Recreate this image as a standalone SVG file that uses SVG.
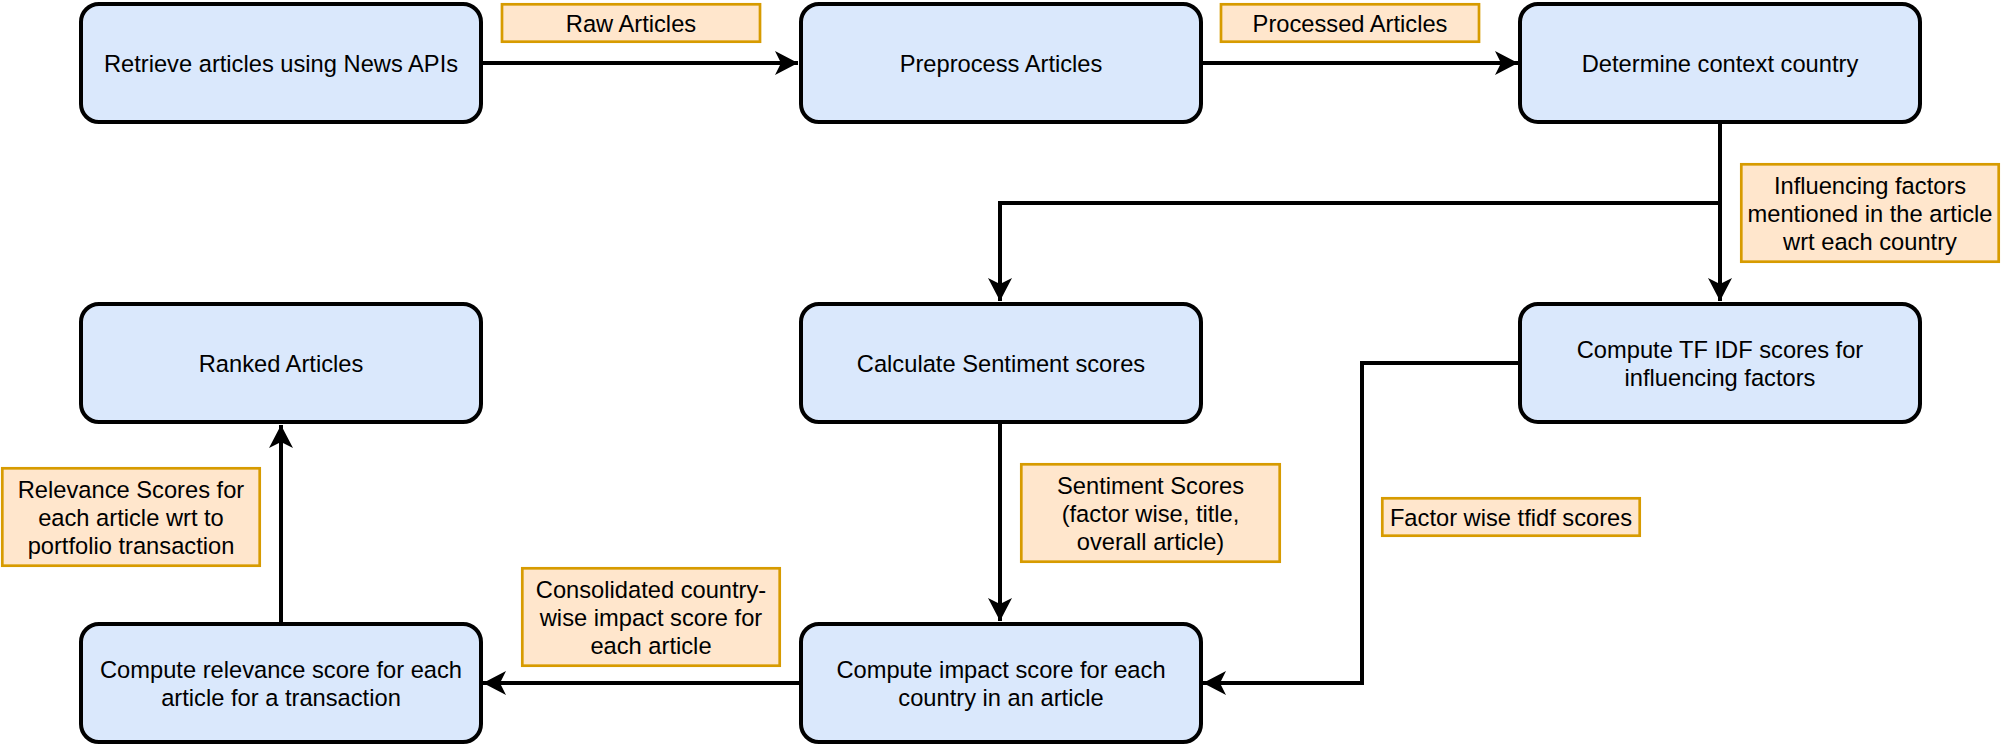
<svg xmlns="http://www.w3.org/2000/svg" width="2002" height="746" viewBox="0 0 2002 746">
<style>
.node rect{fill:#dae8fc;stroke:#000;stroke-width:4}
.lbl rect{fill:#ffe6cc;stroke:#d79b00;stroke-width:2.7}
text{font-family:"Liberation Sans",Arial,Helvetica,sans-serif;font-size:23.7px;fill:#000;text-anchor:middle}
.conn path{fill:none;stroke:#000;stroke-width:4}
</style>
<defs>
<marker id="arr" viewBox="0 0 24 24" refX="23" refY="12" markerWidth="24" markerHeight="24" markerUnits="userSpaceOnUse" orient="auto">
<path d="M0,0 L23,12 L0,24 L6,12 Z" fill="#000"/>
</marker>
</defs>
<rect width="2002" height="746" fill="#fff"/>
<g class="conn" id="connectors">
<path d="M481,63 L798,63" marker-end="url(#arr)"/>
<path d="M1201,63 L1518,63" marker-end="url(#arr)"/>
<path d="M1720,124 L1720,301" marker-end="url(#arr)"/>
<path d="M1720,203 L1000,203 L1000,301" marker-end="url(#arr)"/>
<path d="M1000,424 L1000,621" marker-end="url(#arr)"/>
<path d="M1520,363 L1362,363 L1362,683 L1203,683" marker-end="url(#arr)"/>
<path d="M801,683 L483,683" marker-end="url(#arr)"/>
<path d="M281,622 L281,425" marker-end="url(#arr)"/>
</g>
<g class="node" id="n-retrieve"><rect x="81" y="4" width="400" height="118" rx="18"/><text x="281" y="71.5">Retrieve articles using News APIs</text></g>
<g class="node" id="n-preprocess"><rect x="801" y="4" width="400" height="118" rx="18"/><text x="1001" y="71.5">Preprocess Articles</text></g>
<g class="node" id="n-context"><rect x="1520" y="4" width="400" height="118" rx="18"/><text x="1720" y="71.5">Determine context country</text></g>
<g class="node" id="n-ranked"><rect x="81" y="304" width="400" height="118" rx="18"/><text x="281" y="371.5">Ranked Articles</text></g>
<g class="node" id="n-sentiment"><rect x="801" y="304" width="400" height="118" rx="18"/><text x="1001" y="371.5">Calculate Sentiment scores</text></g>
<g class="node" id="n-tfidf"><rect x="1520" y="304" width="400" height="118" rx="18"/><text x="1720" y="357.5">Compute TF IDF scores for</text><text x="1720" y="385.5">influencing factors</text></g>
<g class="node" id="n-relevance"><rect x="81" y="624" width="400" height="118" rx="18"/><text x="281" y="677.5">Compute relevance score for each</text><text x="281" y="705.5">article for a transaction</text></g>
<g class="node" id="n-impact"><rect x="801" y="624" width="400" height="118" rx="18"/><text x="1001" y="677.5">Compute impact score for each</text><text x="1001" y="705.5">country in an article</text></g>
<g class="lbl" id="l-raw"><rect x="502" y="4.3" width="258" height="37.4"/><text x="631" y="31.5">Raw Articles</text></g>
<g class="lbl" id="l-processed"><rect x="1221" y="4.3" width="258" height="37.4"/><text x="1350" y="31.5">Processed Articles</text></g>
<g class="lbl" id="l-influencing"><rect x="1741.3" y="164.3" width="257.4" height="97.4"/><text x="1870" y="193.5">Influencing factors</text><text x="1870" y="221.5">mentioned in the article</text><text x="1870" y="249.5">wrt each country</text></g>
<g class="lbl" id="l-relevance"><rect x="2.3" y="468.3" width="257.4" height="97.4"/><text x="131" y="497.5">Relevance Scores for</text><text x="131" y="525.5">each article wrt to</text><text x="131" y="553.5">portfolio transaction</text></g>
<g class="lbl" id="l-consolidated"><rect x="522.3" y="568.3" width="257.4" height="97.4"/><text x="651" y="597.5">Consolidated country-</text><text x="651" y="625.5">wise impact score for</text><text x="651" y="653.5">each article</text></g>
<g class="lbl" id="l-sentiment"><rect x="1021.3" y="464.3" width="258.4" height="97.4"/><text x="1150.5" y="493.5">Sentiment Scores</text><text x="1150.5" y="521.5">(factor wise, title,</text><text x="1150.5" y="549.5">overall article)</text></g>
<g class="lbl" id="l-factor"><rect x="1382.3" y="498.3" width="257.4" height="37.4"/><text x="1511" y="525.5">Factor wise tfidf scores</text></g>
</svg>
